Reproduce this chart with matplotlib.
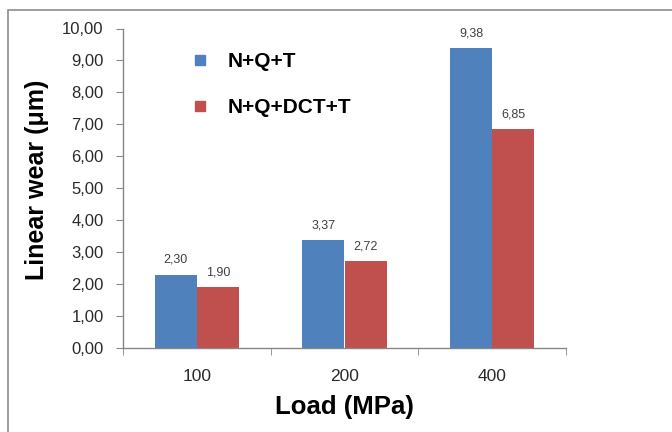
import matplotlib
matplotlib.use("Agg")
import matplotlib.pyplot as plt
from matplotlib.patches import Rectangle
from matplotlib.lines import Line2D
import numpy as np

categories = ["100", "200", "400"]
series_names = ["N+Q+T", "N+Q+DCT+T"]
nqt = [2.30, 3.37, 9.38]
nqdct = [1.90, 2.72, 6.85]
yticks = [0, 1, 2, 3, 4, 5, 6, 7, 8, 9, 10]

blue = "#4F81BD"
red = "#C0504D"
axis_gray = "#868686"

plt.rcParams["font.family"] = ["Liberation Sans", "DejaVu Sans"]

fig = plt.figure(figsize=(6.72, 4.32), dpi=100)
fig.patches.append(Rectangle((8/672, -0.1), 1.2, (432-10)/432 + 0.1, transform=fig.transFigure,
                             fill=False, edgecolor="#8c8c8c", linewidth=1.2))
ax = fig.add_axes([123/672, 1-348/432, (566-123)/672, (348-28.5)/432])

x = np.arange(len(categories))
w = 0.285
b1 = ax.bar(x - w/2, nqt, width=w, color=blue, label=series_names[0])
b2 = ax.bar(x + w/2, nqdct, width=w, color=red, label=series_names[1])

for bars, vals in ((b1, nqt), (b2, nqdct)):
    for r, v in zip(bars, vals):
        ax.text(r.get_x() + r.get_width()/2, v + 0.27, f"{v:.2f}".replace(".", ","),
                ha="center", va="bottom", fontsize=9, color="#404040",
                family=["Liberation Sans Narrow", "Liberation Sans", "DejaVu Sans"])

ax.set_xlim(-0.5, len(categories) - 0.5)
ax.set_ylim(0, 10)
ax.set_yticks(yticks)
ax.set_yticklabels([f"{t:.2f}".replace(".", ",") for t in yticks], fontsize=12, color="#2a2a2a")
ax.set_xticks(x)
ax.set_xticklabels(categories, fontsize=12.5, color="#2a2a2a")
ax.set_xticks(np.arange(len(categories) + 1) - 0.5, minor=True)
ax.tick_params(axis="x", which="major", length=0, pad=15)
ax.tick_params(axis="x", which="minor", length=5, color=axis_gray, direction="out")
ax.tick_params(axis="y", length=5, color=axis_gray, direction="out", pad=9)

for s in ("top", "right"):
    ax.spines[s].set_visible(False)
for s in ("left", "bottom"):
    ax.spines[s].set_color(axis_gray)
    ax.spines[s].set_linewidth(1.0)

ax.set_ylabel("Linear wear (\u03bcm)", fontsize=18, fontweight="bold")
ax.yaxis.set_label_coords((49 - 123) / 443, (348 - 180) / 319.5)
ax.set_xlabel("Load (MPa)", fontsize=18.5, fontweight="bold", labelpad=8)

handles = [Line2D([], [], marker="s", linestyle="none", markersize=7, color=blue),
           Line2D([], [], marker="s", linestyle="none", markersize=7, color=red)]
ax.legend(handles, series_names, loc="upper left", bbox_to_anchor=(0.107, 0.985),
          frameon=False, prop={"weight": "bold", "size": 15}, labelspacing=1.3,
          handletextpad=0.85, handlelength=1.0)

fig.savefig("out.png", dpi=100)
